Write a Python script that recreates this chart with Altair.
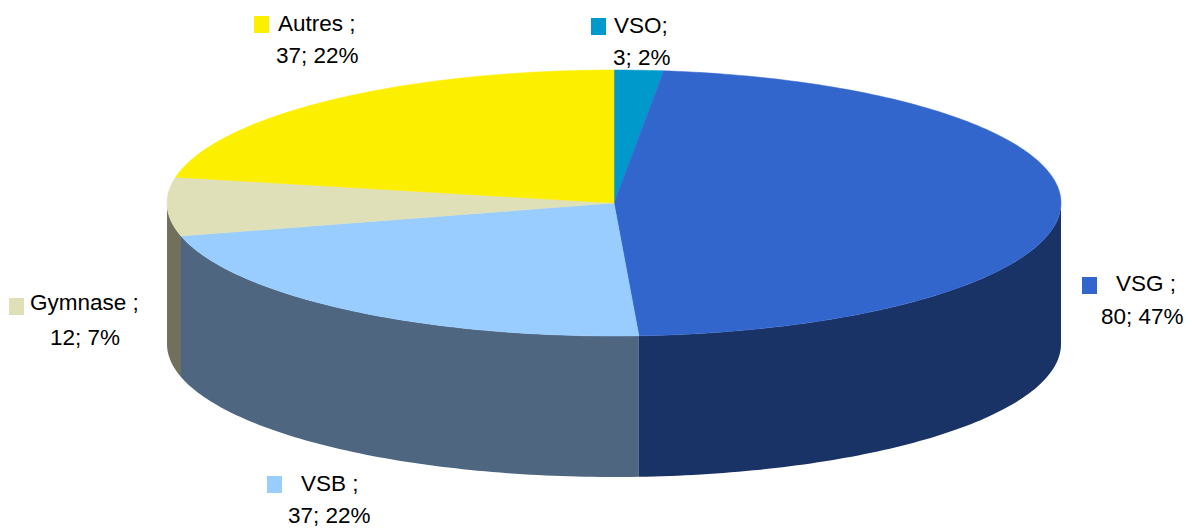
import math
import altair as alt
import pandas as pd

categories = ["VSO", "VSG", "VSB", "Gymnase", "Autres"]
values = [3, 80, 37, 12, 37]
percents = ["2%", "47%", "22%", "7%", "22%"]
line1 = ["VSO;", "VSG ;", "VSB ;", "Gymnase ;", "Autres ;"]
top_colors = ["#0099CC", "#3366CC", "#99CCFF", "#E0E0B8", "#FDEF00"]
side_colors = ["#005F7F", "#1A3366", "#4F6680", "#70705C", "#807800"]

# layout (pixels inside the 8px page margin)
CX, CY, RX, RY, DEPTH = 606, 195, 447, 133, 141
XS = alt.Scale(domain=[-1, 1], range=[CX - RX, CX + RX])
YS = alt.Scale(domain=[-1, 1], range=[CY - RY, CY + RY])
D = DEPTH / RY

total = sum(values)
spans = []
a = 0.0
for v in values:
    spans.append((a, a + v / total * 360))
    a += v / total * 360


def pt(deg):
    r = math.radians(deg)
    return math.sin(r), -math.cos(r)


def sweep(a0, a1):
    n = max(2, int(abs(a1 - a0) / 1.0) + 1)
    return [a0 + (a1 - a0) * i / n for i in range(n + 1)]


layers = []
# sides: only the part of the rim facing the viewer (90..270 degrees)
for (a0, a1), col in zip(spans, side_colors):
    lo, hi = max(a0, 90), min(a1, 270)
    if lo >= hi:
        continue
    rows = []
    for d in sweep(lo, hi):
        x, y = pt(d)
        rows.append({"x": x, "y": y, "y2": y + D})
    layers.append(
        alt.Chart(pd.DataFrame(rows))
        .mark_area(color=col, orient="vertical")
        .encode(
            x=alt.X("x:Q", scale=XS, axis=None),
            y=alt.Y("y:Q", scale=YS, axis=None),
            y2="y2:Q",
        )
    )

# tops
for (a0, a1), col in zip(spans, top_colors):
    rows = [{"x": 0.0, "y": 0.0, "o": 0}]
    for i, d in enumerate(sweep(a0, a1)):
        x, y = pt(d)
        rows.append({"x": x, "y": y, "o": i + 1})
    rows.append({"x": 0.0, "y": 0.0, "o": len(rows)})
    layers.append(
        alt.Chart(pd.DataFrame(rows))
        .mark_line(fill=col, stroke=col, strokeWidth=0.5)
        .encode(
            x=alt.X("x:Q", scale=XS, axis=None),
            y=alt.Y("y:Q", scale=YS, axis=None),
            order="o:Q",
        )
    )

# data labels: text x of each line, baselines, key box (page pixels)
label_layout = {
    "VSO": (614, 33, 613, 65, 591, 18),
    "VSG": (1116, 291, 1101, 324, 1082, 277),
    "VSB": (301, 491, 288, 523, 267, 476),
    "Gymnase": (30, 310, 50, 345, 9, 298),
    "Autres": (278, 31, 276, 63, 254, 16),
}
FONT = "Liberation Sans"
FS = 22.5


def text_layer(s, px, py):
    return (
        alt.Chart(pd.DataFrame({"t": [s]}))
        .mark_text(font=FONT, fontSize=FS, align="left", baseline="alphabetic", color="#000000")
        .encode(x=alt.value(px - 8), y=alt.value(py - 8), text="t:N")
    )


for cat, val, pct, l1, col in zip(categories, values, percents, line1, top_colors):
    x1, y1, x2, y2, kx, ky = label_layout[cat]
    layers.append(text_layer(l1, x1, y1))
    layers.append(text_layer(f"{val}; {pct}", x2, y2))
    layers.append(
        alt.Chart(pd.DataFrame({"k": [cat]}))
        .mark_rect(color=col)
        .encode(
            x=alt.value(kx - 8),
            x2=alt.value(kx - 8 + 15),
            y=alt.value(ky - 8),
            y2=alt.value(ky - 8 + 17),
        )
    )

chart = (
    alt.layer(*layers)
    .properties(width=1176, height=520, padding=0, background="#FFFFFF")
    .configure_view(stroke=None)
)
chart.save("out.html", embed_options={"renderer": "svg", "actions": False})
